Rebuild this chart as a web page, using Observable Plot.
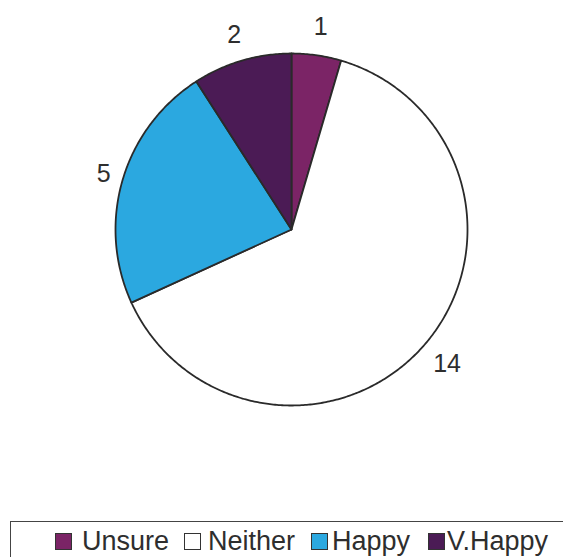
<!DOCTYPE html>
<html>
<head>
<meta charset="utf-8">
<script src="https://cdn.jsdelivr.net/npm/d3@7"></script>
<script src="https://cdn.jsdelivr.net/npm/@observablehq/plot@0.6"></script>
<style>
  html, body { margin: 0; padding: 0; background: #fff; }
  body { width: 563px; height: 557px; overflow: hidden; position: relative; font-family: "Liberation Sans", Arial, sans-serif; }
  #legend { position: absolute; left: 10px; top: 521px; width: 600px; height: 60px; border: 1.5px solid #444; box-sizing: border-box; }
  .item { position: absolute; top: 4px; font-size: 27px; color: #2e2e2e; line-height: 30px; white-space: nowrap; }
  .sw { position: absolute; top: 11px; width: 17px; height: 17px; border: 1.5px solid #333; box-sizing: border-box; }
</style>
</head>
<body>
<div id="chart"></div>
<div id="legend"></div>
<script>
const categories = ["Unsure", "Neither", "Happy", "V.Happy"];
const values = [1, 14, 5, 2];
const colors = ["#7b2466", "#ffffff", "#2ba8e0", "#4b1b55"];

const W = 563, H = 510;
const cx = 291, cy = 229, R = 176;

const total = d3.sum(values);
const slicePts = [];
const labels = [];
let acc = 0;
categories.forEach((c, i) => {
  const a0 = acc / total * 2 * Math.PI;
  acc += values[i];
  const a1 = acc / total * 2 * Math.PI;
  slicePts.push({cat: c, x: 0, y: 0});
  const n = Math.max(4, Math.ceil((a1 - a0) / 0.01));
  for (let k = 0; k <= n; k++) {
    const a = a0 + (a1 - a0) * k / n;
    slicePts.push({cat: c, x: Math.sin(a), y: Math.cos(a)});
  }
  slicePts.push({cat: c, x: 0, y: 0});
  const am = (a0 + a1) / 2;
  const lr = 1.17 - 0.06 * Math.abs(Math.sin(am)) * (Math.cos(am) > 0 ? 1 : 0);
  labels.push({cat: c, v: values[i], x: lr * Math.sin(am), y: lr * Math.cos(am)});
});

const plot = Plot.plot({
  width: W,
  height: H,
  x: {domain: [-1, 1], range: [cx - R, cx + R], axis: null},
  y: {domain: [-1, 1], range: [cy + R, cy - R], axis: null},
  color: {domain: categories, range: colors},
  style: {background: "#fff"},
  marks: [
    Plot.line(slicePts, {x: "x", y: "y", z: "cat", fill: "cat", stroke: "#2a2a2a", strokeWidth: 1.8, strokeLinejoin: "round", curve: "linear"}),
    Plot.text(labels, {x: "x", y: "y", text: d => String(d.v), fontSize: 25, fill: "#2e2e2e", fontFamily: "Liberation Sans, Arial, sans-serif"})
  ]
});
document.getElementById("chart").appendChild(plot);

const legend = document.getElementById("legend");
const swX = [44, 173, 300, 417];
const txX = [71, 197, 321, 436];
categories.forEach((c, i) => {
  const sw = document.createElement("div");
  sw.className = "sw";
  sw.style.left = swX[i] + "px";
  sw.style.background = colors[i];
  legend.appendChild(sw);
  const t = document.createElement("div");
  t.className = "item";
  t.style.left = txX[i] + "px";
  t.textContent = c;
  legend.appendChild(t);
});
</script>
</body>
</html>
